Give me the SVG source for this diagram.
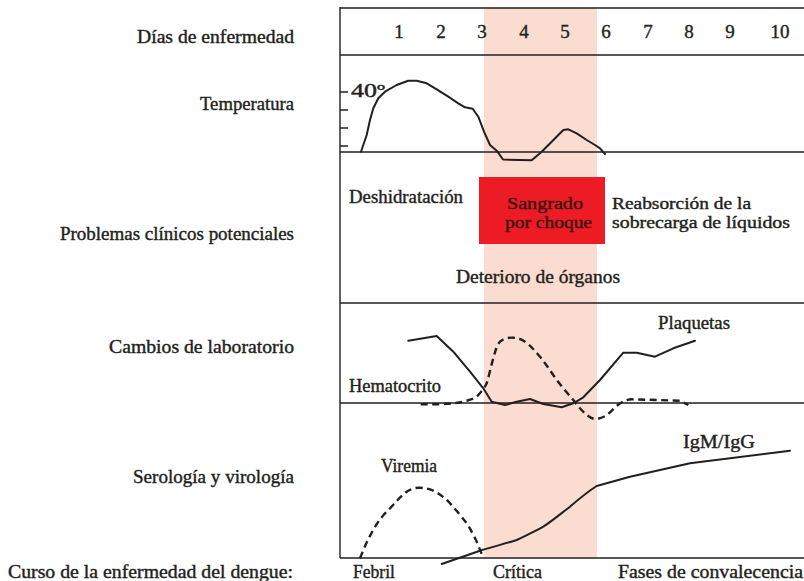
<svg xmlns="http://www.w3.org/2000/svg" width="804" height="581" viewBox="0 0 804 581">
<style>
text{font-family:"Liberation Serif","Times New Roman",serif;fill:#231f20;stroke:#231f20;stroke-width:0.4;font-size:18px}
.lbl{text-anchor:end}
.two{font-size:16.2px}
.grid{stroke:#231f20;stroke-width:1.4;fill:none}
.curve{stroke:#231f20;stroke-width:2;fill:none;stroke-linejoin:round;stroke-linecap:round}
.dash{stroke:#231f20;stroke-width:2.4;fill:none;stroke-dasharray:7 4.5}
.num{text-anchor:middle;font-size:19px}
.dark{fill:#3b1214;stroke:#3b1214}
</style>
<rect width="804" height="581" fill="#fff"/>
<g id="band"><rect x="484" y="8" width="113" height="550" fill="#fbdcd0"/></g>
<g id="grid">
<path class="grid" d="M340 7V558M340 8H804M340 55H804M340 152H804M340 303H804M340 403H804M340 558H804"/>
<path class="grid" d="M340 92H348M340 110H348M340 128H348M340 146H348"/>
</g>
<g id="row-labels">
<text class="lbl" x="294" y="43" textLength="157" lengthAdjust="spacingAndGlyphs">Días de enfermedad</text>
<text class="lbl" x="294" y="110" textLength="94" lengthAdjust="spacingAndGlyphs">Temperatura</text>
<text class="lbl" x="294" y="240" textLength="234" lengthAdjust="spacingAndGlyphs">Problemas clínicos potenciales</text>
<text class="lbl" x="294" y="353" textLength="185" lengthAdjust="spacingAndGlyphs">Cambios de laboratorio</text>
<text class="lbl" x="294" y="483" textLength="161" lengthAdjust="spacingAndGlyphs">Serología y virología</text>
<text x="8" y="578" textLength="285" lengthAdjust="spacingAndGlyphs">Curso de la enfermedad del dengue:</text>
</g>
<g id="days">
<text class="num" x="399" y="38">1</text>
<text class="num" x="441" y="38">2</text>
<text class="num" x="482" y="38">3</text>
<text class="num" x="524" y="38">4</text>
<text class="num" x="565" y="38">5</text>
<text class="num" x="606" y="38">6</text>
<text class="num" x="648" y="38">7</text>
<text class="num" x="689" y="38">8</text>
<text class="num" x="730" y="38">9</text>
<text class="num" x="780" y="38">10</text>
</g>
<g id="temperature">
<text x="351" y="97" font-size="20" textLength="34" lengthAdjust="spacingAndGlyphs">40º</text>
<path class="curve" d="M361 151.7L366.7 135L370 120L373.3 108.3L378.3 98.3L385 91.7L396.7 85L408.3 80.7L416.7 80.7L426.7 83.3L436.7 89.3L448.3 96.7L458.3 103.3L465 107.3L472.7 108.7L478.3 116.7L484 131.7L490 145L496.7 150.7L503 159.5L531.7 160.3L541.7 151.7L551.7 141.7L563.3 130L568.3 129.3L576.7 133.3L586.7 140L595 145L600 148.3L605 154"/>
</g>
<g id="clinical">
<rect x="479" y="177" width="126" height="67" fill="#ed1c24"/>
<text x="349" y="203" textLength="114" lengthAdjust="spacingAndGlyphs">Deshidratación</text>
<text class="two dark" x="545" y="208.5" text-anchor="middle" textLength="76" lengthAdjust="spacingAndGlyphs">Sangrado</text>
<text class="two dark" x="548.5" y="227.5" text-anchor="middle" textLength="87" lengthAdjust="spacingAndGlyphs">por choque</text>
<text class="two" x="612" y="208.5" textLength="139" lengthAdjust="spacingAndGlyphs">Reabsorción de la</text>
<text class="two" x="612" y="227.5" textLength="178" lengthAdjust="spacingAndGlyphs">sobrecarga de líquidos</text>
<text x="456" y="283" textLength="164" lengthAdjust="spacingAndGlyphs">Deterioro de órganos</text>
</g>
<g id="laboratory">
<text x="658" y="329" textLength="72" lengthAdjust="spacingAndGlyphs">Plaquetas</text>
<text x="349" y="392" textLength="92" lengthAdjust="spacingAndGlyphs">Hematocrito</text>
<path class="curve" d="M408.3 340.7L436.7 336L453.3 351.7L470 371.7L483.3 388.3L491.7 401.7L505 405L516.7 401.7L530 399L543.3 404L561.7 407.3L573.3 403.3L583.3 397.3L600 380L623.3 352.7L636.7 352.7L655 356.7L673.3 348.3L695 340.7"/>
<path class="dash" d="M420.7 404.3L440 404.3C452 403.5 458 403 463.3 401.7C471 399.5 476 398 478.3 395C482 391 485 387 486.7 383.3C489 376 491 366 493.3 358.3C495.5 350 497 345 500 341.7C504 338 509 337.5 513.3 337.7C518 338 521 339 525 341.7C531 346 535 351 540 356.7C546 364 551 372 556.7 380C562 387 568 394 573.3 400C577 405 581 410 585 413.3C588 416 591 418.5 595 419C599 419 603 417.5 606.7 415C611 412 615 407 620 403.3C624 401 627 399.5 631.7 399.3L680 400.7L688.3 405"/>
</g>
<g id="serology">
<text x="381" y="472" textLength="56" lengthAdjust="spacingAndGlyphs">Viremia</text>
<text x="683" y="448" textLength="72" lengthAdjust="spacingAndGlyphs">IgM/IgG</text>
<path class="dash" d="M360 558.3C364 548 368 539 373.3 530C378 521 384 514 390 508.3C396 502 401 496 406.7 491.7C411 489 415 487.5 420 487.7C425 488 429 489 433.3 490.7C440 494 445 498 450 503.3C456 510 462 517 466.7 523.3C471 530 474 536 476.7 541.7C479 547 481 552 482.7 556.7"/>
<path class="curve" d="M441.7 564L480 550.7C495 546 506 543.5 516.7 540C527 535 535 531.5 543.3 526.7C552 521 561 513.5 570 506.7C579 499 587 492 596.7 486L630 476.7L690 463.3L790 450.7"/>
</g>
<g id="phases">
<text x="353" y="578" textLength="42" lengthAdjust="spacingAndGlyphs">Febril</text>
<text x="493" y="578" textLength="49" lengthAdjust="spacingAndGlyphs">Crítica</text>
<text x="618" y="578" textLength="185" lengthAdjust="spacingAndGlyphs">Fases de convalecencia</text>
</g>
</svg>
